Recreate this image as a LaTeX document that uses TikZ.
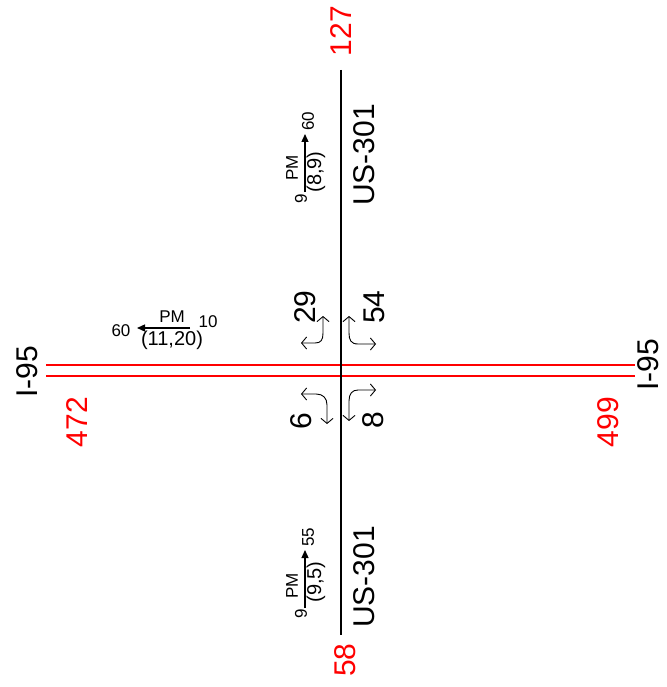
\documentclass[tikz,border=0pt]{standalone}
\usepackage{fontspec}
\setmainfont{Liberation Sans}
\usetikzlibrary{arrows.meta}
\begin{document}
\begin{tikzpicture}[x=1pt,y=-1pt,
  big/.style={font=\fontsize{30}{30}\selectfont, rotate=90, inner sep=0pt},
  bigred/.style={big, text=red},
  small/.style={font=\fontsize{17}{17}\selectfont, inner sep=0pt},
  paren/.style={font=\fontsize{20}{20}\selectfont, inner sep=0pt},
  road/.style={line width=1.3pt},
  fwy/.style={red, line width=1.3pt},
  mv/.style={line width=0.9pt, {Straight Barb[length=5pt,width=12pt]}-{Straight Barb[length=5pt,width=12pt]}},
  pm/.style={line width=1.3pt, -{Triangle[length=8pt,width=7pt]}}]
\useasboundingbox (0,0) rectangle (666,687);
% roads
\coordinate (nEnd) at (341,70);
\coordinate (sEnd) at (341,635);
\coordinate (w1) at (46,365);
\coordinate (e1) at (635,365);
\coordinate (w2) at (46,376);
\coordinate (e2) at (635,376);
\draw[fwy] (w1) -- (e1);
\draw[fwy] (w2) -- (e2);
\draw[road] (nEnd) -- (sEnd);
% road labels
\node[bigred] (n127) at (341,31) {127};
\node[bigred] (n58) at (345,660) {58};
\node[bigred] (n472) at (77,422) {472};
\node[bigred] (n499) at (608,422) {499};
\node[big] (i95w) at (27,372) {I-95};
\node[big] (i95e) at (648,365) {I-95};
\node[big] (usn) at (364,155) {US-301};
\node[big] (uss) at (364,577) {US-301};
% turning movement counts
\node[big] (c29) at (305,307) {29};
\node[big] (c54) at (374,307) {54};
\node[big] (c6) at (301,421) {6};
\node[big] (c8) at (373,420) {8};
\draw[mv] (301,343) -- (315,343) .. controls (321,343) and (323,340) .. (323,333) -- (323,316);
\draw[mv] (349,316) -- (349,333) .. controls (349,340) and (351,344) .. (358,344) -- (376,344);
\draw[mv] (301,394) -- (316,394) .. controls (323,394) and (327,398) .. (327,405) -- (327,424);
\draw[mv] (376,390) -- (358,390) .. controls (352,390) and (349,394) .. (349,401) -- (349,421);
% PM peak arrows
\coordinate (nT) at (305,192);
\coordinate (nH) at (305,134);
\draw[pm] (nT) -- (nH);
\node[small, rotate=90] (n60) at (308,121) {60};
\node[small, rotate=90] (n9) at (301,199) {9};
\node[small, rotate=90] (npm) at (292,168) {PM};
\node[paren, rotate=90] (np) at (316,172) {(8,9)};
\coordinate (sT) at (305,608);
\coordinate (sH) at (305,550);
\draw[pm] (sT) -- (sH);
\node[small, rotate=90] (s55) at (308,537) {55};
\node[small, rotate=90] (s9) at (301,614) {9};
\node[small, rotate=90] (spm) at (292,586) {PM};
\node[paren, rotate=90] (sp) at (316,582) {(9,5)};
\coordinate (wT) at (190,328);
\coordinate (wH) at (137,328);
\draw[pm] (wT) -- (wH);
\node[small] (w10) at (208,322) {10};
\node[small] (w60) at (121,331) {60};
\node[small] (wpm) at (172,317) {PM};
\node[paren] (wp) at (172,340) {(11,20)};
\end{tikzpicture}
\end{document}
